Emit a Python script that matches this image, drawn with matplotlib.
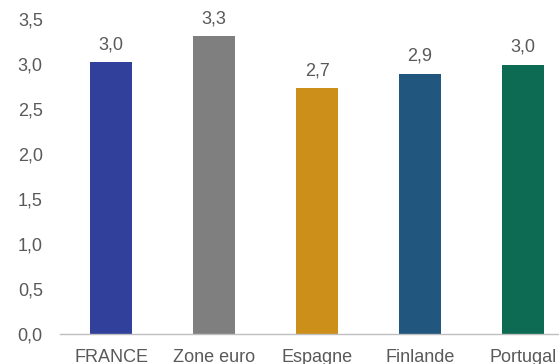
import matplotlib.pyplot as plt
from matplotlib.ticker import FuncFormatter

plt.rcParams['font.family'] = ['Liberation Sans', 'DejaVu Sans']

pays = ["FRANCE", "Zone euro", "Espagne", "Finlande", "Portugal"]
valeurs = [3.02, 3.31, 2.73, 2.89, 2.99]
couleurs = ["#31409a", "#7f7f7f", "#cc8f1a", "#21577f", "#0e6b53"]

gris = "#595959"
taille = 13


def virgule(v, pos=None):
    return f"{v:.1f}".replace(".", ",")


fig = plt.figure(figsize=(5.59, 3.64), dpi=100)
# the plot area runs a little past the right edge of the figure
ax = fig.add_axes([59.5 / 559, 30 / 364, 515 / 559, 315 / 364])

x = range(len(pays))
barres = ax.bar(x, valeurs, width=0.41, color=couleurs)

for b, v in zip(barres, valeurs):
    ax.annotate(virgule(v), (b.get_x() + b.get_width() / 2, v),
                xytext=(0, 6.5), textcoords="offset points",
                ha="center", va="bottom", fontsize=taille, color=gris)

ax.set_xlim(-0.5, len(pays) - 0.5)
ax.set_ylim(0, 3.5)
ax.set_yticks([0, 0.5, 1, 1.5, 2, 2.5, 3, 3.5])
ax.yaxis.set_major_formatter(FuncFormatter(virgule))
ax.set_xticks(list(x))
ax.set_xticklabels(pays)

for s in ["top", "right", "left"]:
    ax.spines[s].set_visible(False)
ax.spines["bottom"].set_color("#bfbfbf")
ax.spines["bottom"].set_linewidth(1)

ax.tick_params(axis="y", length=0, pad=12, labelsize=taille, labelcolor=gris)
ax.tick_params(axis="x", length=0, pad=10.5, labelsize=taille, labelcolor=gris)

fig.savefig("out.png", dpi=100)
